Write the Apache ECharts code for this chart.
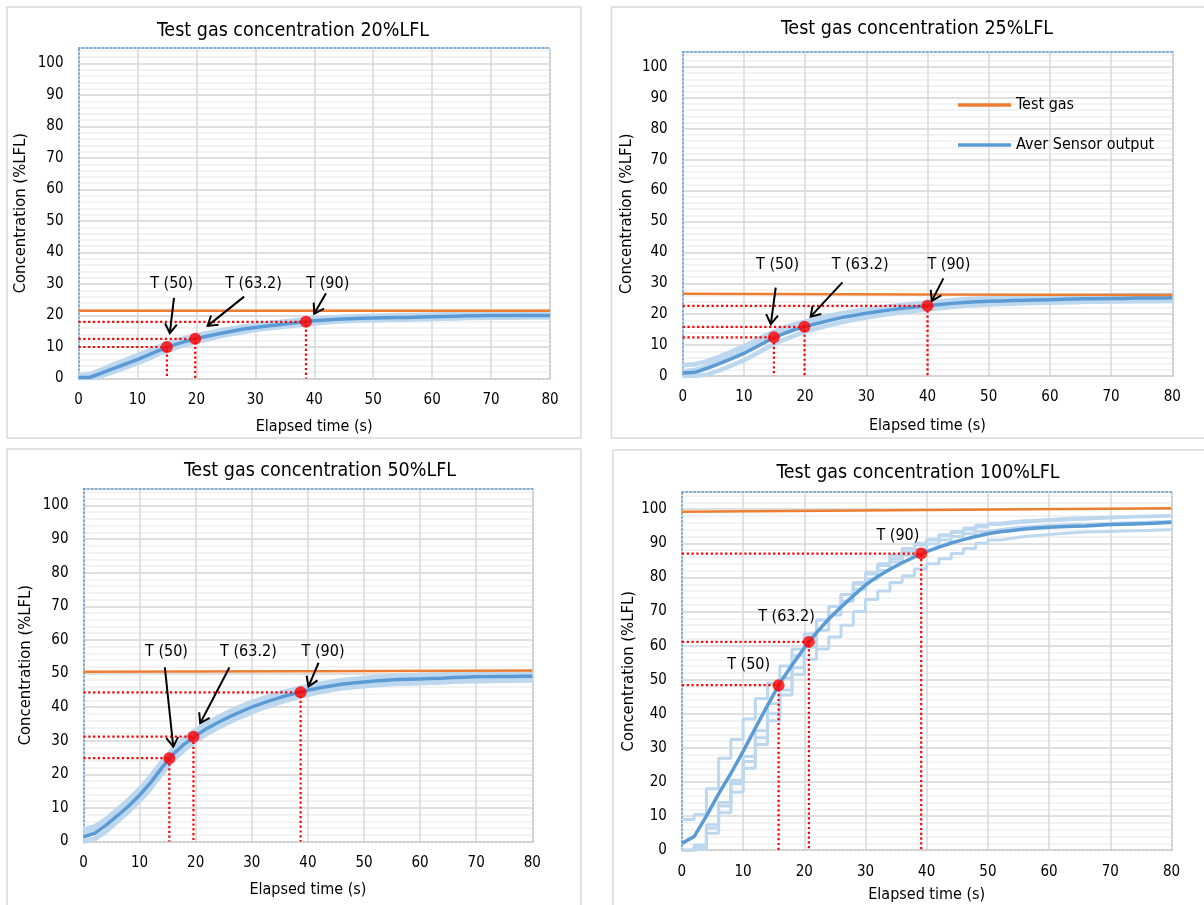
<!DOCTYPE html>
<html>
<head>
<meta charset="utf-8">
<script src="https://cdn.jsdelivr.net/npm/echarts@6/dist/echarts.min.js"></script>
<style>
  html, body { margin: 0; padding: 0; background: #ffffff; }
  #chart { width: 1204px; height: 905px; }
</style>
</head>
<body>
<div id="chart"></div>
<script>
// ---------- data ----------
const TIME = [0,2,4,6,8,10,12,14,16,18,20,22,24,26,28,30,32,34,36,38,40,42,44,46,48,50,52,54,56,58,60,62,64,66,68,70,72,74,76,78,80];
const GAS_TIME = [0, 40, 80];
const TITLES = ['Test gas concentration 20%LFL', 'Test gas concentration 25%LFL', 'Test gas concentration 50%LFL', 'Test gas concentration 100%LFL'];
const T_LABELS = ['T (50)', 'T (63.2)', 'T (90)'];
const X_TICKS = [0, 10, 20, 30, 40, 50, 60, 70, 80];
const Y_TICKS = [0, 10, 20, 30, 40, 50, 60, 70, 80, 90, 100];

// 20 %LFL
const GAS_20 = [21.5, 21.5, 21.5];
const AVG_20 = [0.3,0.4,1.8,3.2,4.6,6.0,7.6,9.2,10.5,11.7,12.7,13.5,14.3,15.0,15.7,16.2,16.7,17.1,17.5,17.9,18.3,18.6,18.8,19.0,19.1,19.2,19.3,19.4,19.4,19.5,19.6,19.7,19.8,19.9,19.9,20.0,20.0,20.0,20.0,20.0,20.0];
const S20_A = [1.0,1.5,3.0,4.6,6.0,7.5,9.0,10.5,11.8,12.9,13.8,14.6,15.3,16.0,16.6,17.1,17.6,18.0,18.4,18.8,19.1,19.4,19.6,19.8,19.9,20.0,20.1,20.2,20.2,20.3,20.4,20.5,20.6,20.6,20.7,20.7,20.8,20.8,20.8,20.8,20.8];
const S20_B = [0.0,0.0,0.8,2.0,3.4,4.8,6.3,8.0,9.3,10.6,11.6,12.4,13.3,14.0,14.7,15.3,15.8,16.2,16.6,17.0,17.4,17.7,18.0,18.2,18.3,18.4,18.5,18.6,18.6,18.7,18.8,18.9,19.0,19.1,19.1,19.2,19.2,19.2,19.3,19.3,19.3];
const S20_C = [0.2,0.6,2.2,3.6,5.0,6.4,8.0,9.6,10.9,12.0,13.0,13.8,14.6,15.3,15.9,16.4,16.9,17.3,17.7,18.1,18.5,18.8,19.0,19.2,19.3,19.4,19.5,19.6,19.6,19.7,19.8,19.9,20.0,20.1,20.1,20.2,20.2,20.2,20.2,20.2,20.2];
const TX_20 = [15.0, 19.8, 38.6];
const TY_20 = [10.0, 12.6, 18.0];

// 25 %LFL
const GAS_25 = [26.6, 26.4, 26.2];
const AVG_25 = [1.0,1.2,2.5,4.0,5.6,7.3,9.4,11.5,13.3,14.8,16.0,17.0,18.0,18.9,19.6,20.3,20.9,21.4,21.9,22.3,22.7,23.1,23.5,23.8,24.0,24.2,24.3,24.4,24.5,24.6,24.7,24.8,24.9,25.0,25.0,25.1,25.1,25.2,25.2,25.2,25.3];
const S25_A = [3.5,3.8,4.8,6.3,7.9,9.6,11.6,13.6,15.2,16.6,17.6,18.6,19.5,20.3,21.0,21.6,22.1,22.6,23.0,23.4,23.8,24.2,24.5,24.8,25.0,25.2,25.3,25.4,25.5,25.6,25.7,25.8,25.9,26.0,26.0,26.1,26.1,26.2,26.2,26.2,26.3];
const S25_B = [0.0,0.0,0.5,1.8,3.4,5.1,7.2,9.4,11.3,12.9,14.3,15.4,16.5,17.4,18.2,18.9,19.6,20.1,20.6,21.1,21.5,21.9,22.3,22.7,22.9,23.1,23.3,23.4,23.5,23.6,23.7,23.8,23.9,24.0,24.0,24.1,24.1,24.2,24.2,24.2,24.3];
const S25_C = [1.5,2.0,3.2,4.8,6.4,8.2,10.3,12.4,14.1,15.6,16.8,17.8,18.7,19.6,20.3,21.0,21.5,22.0,22.5,22.9,23.3,23.6,24.0,24.3,24.5,24.7,24.8,24.9,25.0,25.1,25.2,25.3,25.4,25.5,25.5,25.6,25.6,25.7,25.7,25.7,25.8];
const TX_25 = [14.9, 19.9, 40.0];
const TY_25 = [12.5, 15.9, 22.7];

// 50 %LFL
const GAS_50 = [50.5, 50.7, 50.9];
const AVG_50 = [1.4,2.4,4.8,7.6,10.5,13.8,17.6,22.0,26.0,29.0,31.5,33.6,35.4,37.1,38.6,40.0,41.2,42.3,43.3,44.2,45.0,45.7,46.3,46.8,47.2,47.5,47.8,48.0,48.2,48.3,48.4,48.5,48.6,48.8,48.9,49.0,49.0,49.1,49.1,49.2,49.2];
const S50_A = [3.5,4.4,6.6,9.4,12.3,15.6,19.4,23.7,27.6,30.6,33.1,35.1,36.9,38.6,40.1,41.5,42.6,43.6,44.6,45.4,46.2,46.8,47.4,47.9,48.3,48.6,48.9,49.1,49.3,49.4,49.5,49.6,49.7,49.9,50.0,50.1,50.1,50.2,50.2,50.3,50.3];
const S50_B = [0.0,0.8,3.0,6.0,8.9,12.2,15.9,20.3,24.4,27.4,29.9,32.1,33.9,35.6,37.1,38.5,39.8,40.9,41.9,42.9,43.7,44.5,45.1,45.6,46.0,46.3,46.6,46.8,47.0,47.1,47.2,47.3,47.4,47.6,47.7,47.8,47.8,47.9,47.9,48.0,48.0];
const S50_C = [2.0,3.2,5.8,8.8,11.8,15.2,19.2,23.6,27.4,30.2,32.6,34.6,36.4,38.0,39.5,40.9,42.1,43.1,44.1,45.0,45.8,46.4,47.0,47.5,47.9,48.2,48.5,48.7,48.9,49.0,49.1,49.2,49.3,49.5,49.6,49.7,49.7,49.8,49.8,49.9,49.9];
const TX_50 = [15.3, 19.6, 38.7];
const TY_50 = [24.8, 31.2, 44.4];

// 100 %LFL
const GAS_100 = [99.3, 99.8, 100.3];
const AVG_100 = [2.0,4.0,10.0,16.5,22.5,29.0,35.8,42.5,49.0,54.3,59.3,63.8,67.8,71.3,74.6,77.8,80.3,82.4,84.3,86.0,87.6,88.9,90.1,91.1,92.0,92.8,93.4,93.8,94.2,94.5,94.7,94.9,95.0,95.1,95.3,95.5,95.6,95.7,95.8,96.0,96.2];
const S100_A = [9.0,10.5,18.0,27.0,32.5,38.5,44.5,49.0,54.0,59.0,63.5,67.5,71.5,75.0,78.0,81.0,83.5,85.5,87.5,89.5,91.0,92.2,93.2,94.0,94.8,95.5,95.9,96.2,96.5,96.7,96.8,97.0,97.1,97.3,97.4,97.6,97.7,97.8,97.9,98.0,98.1];
const S100_B = [0.0,0.5,5.0,11.0,17.0,24.0,31.0,38.0,45.5,51.5,56.0,59.0,62.5,66.0,70.0,73.5,76.0,78.5,80.5,82.5,84.0,85.5,87.0,88.5,90.0,91.0,91.5,92.0,92.3,92.6,92.9,93.1,93.3,93.4,93.5,93.6,93.7,93.8,93.9,94.0,94.1];
const S100_C = [0.0,1.5,7.5,14.0,20.5,27.5,35.0,43.0,50.5,57.0,62.5,67.5,71.5,75.0,78.5,81.5,84.0,86.5,88.5,90.0,91.2,92.5,93.5,94.5,95.3,95.9,96.3,96.6,96.8,97.0,97.2,97.4,97.5,97.6,97.7,97.8,97.9,98.0,98.1,98.2,98.3];
const S100_D = [0.0,1.0,6.5,13.0,19.5,26.0,33.0,40.0,47.0,53.5,59.5,64.5,69.0,73.0,76.5,79.5,82.0,84.5,86.5,88.3,89.8,91.0,92.0,92.8,93.5,94.0,94.5,94.8,95.0,95.2,95.4,95.5,95.6,95.7,95.8,96.0,96.1,96.2,96.3,96.4,96.5];
const TX_100 = [15.8, 20.75, 39.1];
const TY_100 = [48.4, 61.1, 87.0];

// annotation anchors in axis units: label centres and arrow [x0, y0, x1, y1]
const LBL_20 = [[15.8, 30.2], [29.7, 30.2], [42.3, 30.2]];
const ARR_20 = [[16.2, 25.6, 15.5, 14.4], [28.1, 26.0, 21.9, 16.7], [42.0, 27.1, 40.0, 20.6]];
const LBL_25 = [[15.5, 35.9], [29.0, 35.9], [43.5, 35.9]];
const ARR_25 = [[15.2, 28.6, 14.4, 16.8], [26.1, 30.3, 20.9, 19.2], [42.6, 31.6, 40.7, 24.3]];
const LBL_50 = [[14.8, 56.5], [29.4, 56.5], [42.7, 56.5]];
const ARR_50 = [[14.5, 51.8, 16.0, 28.2], [26.0, 51.8, 20.8, 35.2], [41.9, 53.2, 40.1, 46.1]];
const LBL_100 = [[10.9, 54.3], [17.1, 68.4], [35.3, 92.2]];
const ARR_100 = [];

// ---------- styling / layout ----------
const FONT = "'DejaVu Sans Condensed', 'DejaVu Sans', sans-serif";
const C_GAS = '#ED7D31', C_AVG = '#5B9BD5', C_SENSOR = '#BDD7EE', C_BORDER = '#5B9BD5';
const DOTTED = [1.5, 2.5];

const PANELS = [
  { title: TITLES[0], tx: 293, ty: 30.7, frame: [7, 7, 574, 431],
    grid: { left: 78.5, top: 47.75, width: 471.5, height: 330.75 }, xGap: 40, yGap: 49,
    gas: GAS_20, avg: AVG_20, sensors: [S20_A, S20_B, S20_C], stepped: false, sensorWidth: 4, px: TX_20, py: TY_20, lbl: LBL_20, arr: ARR_20 },
  { title: TITLES[1], tx: 917, ty: 29.3, frame: [611.5, 7, 620, 431],
    grid: { left: 682.7, top: 51.5, width: 489.6, height: 324.5 }, xGap: 42, yGap: 47,
    gas: GAS_25, avg: AVG_25, sensors: [S25_A, S25_B, S25_C], stepped: false, sensorWidth: 4.5, px: TX_25, py: TY_25, lbl: LBL_25, arr: ARR_25 },
  { title: TITLES[2], tx: 320, ty: 471, frame: [7, 449, 574, 480],
    grid: { left: 83.5, top: 488.7, width: 448.8, height: 352.8 }, xGap: 40.5, yGap: 49,
    gas: GAS_50, avg: AVG_50, sensors: [S50_A, S50_B, S50_C], stepped: false, sensorWidth: 5, px: TX_50, py: TY_50, lbl: LBL_50, arr: ARR_50 },
  { title: TITLES[3], tx: 918, ty: 473.3, frame: [613, 450, 620, 480],
    grid: { left: 681.9, top: 492.2, width: 489.6, height: 358 }, xGap: 37, yGap: 45,
    gas: GAS_100, avg: AVG_100, sensors: [S100_A, S100_B, S100_C, S100_D], stepped: true, sensorWidth: 3, px: TX_100, py: TY_100, lbl: LBL_100, arr: ARR_100 }
];

const pairs = (xs, ys) => xs.map((x, k) => [x, ys[k]]);
const textStyle = (size) => ({ fontFamily: FONT, fontSize: size, color: '#000000' });

const option = {
  animation: false,
  backgroundColor: '#ffffff',
  title: [], grid: [], xAxis: [], yAxis: [], series: [],
  graphic: [],
  legend: {
    orient: 'vertical', left: 958, top: 97, padding: 0,
    icon: 'rect', itemWidth: 53, itemHeight: 3.5, itemGap: 24,
    data: ['Test gas', 'Aver Sensor output'],
    textStyle: textStyle(16), selectedMode: false
  }
};

PANELS.forEach((p, i) => {
  const xi = 2 * i, yi = 2 * i;
  option.graphic.push({
    type: 'rect', silent: true, z: 0,
    shape: { x: p.frame[0], y: p.frame[1], width: p.frame[2], height: p.frame[3] },
    style: { fill: null, stroke: '#d9d9d9', lineWidth: 1.5 }
  });
  option.title.push({
    text: p.title, left: p.tx, top: p.ty, textAlign: 'center', textVerticalAlign: 'middle', padding: 0,
    textStyle: { fontFamily: FONT, fontSize: 19.5, fontWeight: 'normal', color: '#000000' }
  });
  option.grid.push(Object.assign({ outerBoundsMode: 'none', containLabel: false }, p.grid));

  // bottom value axis with labels, and a bare top axis that draws the dotted frame edge
  option.xAxis.push({
    gridIndex: i, type: 'value', position: 'bottom', min: X_TICKS[0], max: X_TICKS[X_TICKS.length - 1], interval: 10, z: 1,
    axisLine: { onZero: false, lineStyle: { color: '#c8c8c8', type: DOTTED, width: 1.5 } },
    axisTick: { show: false },
    axisLabel: Object.assign({ margin: 14 }, textStyle(15)),
    splitLine: { show: true, lineStyle: { color: '#d9d9d9', width: 1.5 } },
    name: 'Elapsed time (s)', nameLocation: 'middle', nameGap: p.xGap, nameTextStyle: textStyle(16)
  });
  option.xAxis.push({
    gridIndex: i, type: 'value', position: 'top', min: 0, max: 80, z: 3,
    axisLine: { show: true, onZero: false, lineStyle: { color: C_BORDER, type: DOTTED, width: 1.5 } },
    axisTick: { show: false }, axisLabel: { show: false }, splitLine: { show: false }
  });
  // main value axis (major grid) and a second one on the right for the fine grid lines
  option.yAxis.push({
    gridIndex: i, type: 'value', position: 'left', min: Y_TICKS[0], max: 105, interval: 10, z: 1,
    axisLine: { show: true, onZero: false, lineStyle: { color: C_BORDER, type: DOTTED, width: 1.5 } },
    axisTick: { show: false },
    axisLabel: Object.assign({ margin: 15, showMaxLabel: false,
      formatter: (v) => (Y_TICKS.indexOf(v) >= 0 ? String(v) : '') }, textStyle(15)),
    splitLine: { show: true, lineStyle: { color: '#d9d9d9', width: 1.5 } },
    name: 'Concentration (%LFL)', nameLocation: 'middle', nameGap: p.yGap, nameTextStyle: textStyle(16.5)
  });
  option.yAxis.push({
    gridIndex: i, type: 'value', position: 'right', min: 0, max: 105, interval: 2, z: 0,
    axisLine: { show: true, onZero: false, lineStyle: { color: C_BORDER, type: DOTTED, width: 1.5 } },
    axisTick: { show: false }, axisLabel: { show: false },
    splitLine: { show: true, lineStyle: { color: '#efefef', width: 1.5 } }
  });

  const ax = { xAxisIndex: xi, yAxisIndex: yi };

  p.sensors.forEach((s) => {
    option.series.push(Object.assign({
      type: 'line', name: 'Sensor', data: pairs(TIME, s), step: p.stepped ? 'end' : false,
      showSymbol: false, symbol: 'none', silent: true, z: 2,
      lineStyle: { color: C_SENSOR, width: p.sensorWidth }, itemStyle: { color: C_SENSOR }
    }, ax));
  });
  option.series.push(Object.assign({
    type: 'line', name: 'Aver Sensor output', data: pairs(TIME, p.avg), showSymbol: false, symbol: 'none', silent: true, z: 3,
    lineStyle: { color: C_AVG, width: 3.5 }, itemStyle: { color: C_AVG }
  }, ax));
  option.series.push(Object.assign({
    type: 'line', name: 'Test gas', data: pairs(GAS_TIME, p.gas), showSymbol: false, symbol: 'none', silent: true, z: 4,
    lineStyle: { color: C_GAS, width: 2.5 }, itemStyle: { color: C_GAS }
  }, ax));

  // red dotted guides from each time-constant point to both axes
  option.series.push(Object.assign({
    type: 'custom', name: 'guides', silent: true, z: 5, data: pairs(p.px, p.py),
    renderItem: (params, api) => {
      const x = api.value(0), y = api.value(1);
      const a = api.coord([0, y]), b = api.coord([x, y]), c = api.coord([x, 0]);
      return { type: 'polyline', shape: { points: [a, b, c] },
        style: { stroke: '#ff0000', lineWidth: 2.2, lineDash: [2.2, 2.6], fill: null } };
    }
  }, ax));
  option.series.push(Object.assign({
    type: 'scatter', name: 'T points', data: pairs(p.px, p.py), symbol: 'circle', symbolSize: 12, silent: true, z: 6,
    itemStyle: { color: '#ff0000' }
  }, ax));

  // arrows
  option.series.push(Object.assign({
    type: 'custom', name: 'arrows', silent: true, z: 7, data: p.arr,
    renderItem: (params, api) => {
      const s = api.coord([api.value(0), api.value(1)]);
      const t = api.coord([api.value(2), api.value(3)]);
      const ang = Math.atan2(t[1] - s[1], t[0] - s[0]);
      const L = 11, w = Math.PI / 5.5;
      const h1 = [t[0] - L * Math.cos(ang - w), t[1] - L * Math.sin(ang - w)];
      const h2 = [t[0] - L * Math.cos(ang + w), t[1] - L * Math.sin(ang + w)];
      return { type: 'group', children: [
        { type: 'line', shape: { x1: s[0], y1: s[1], x2: t[0], y2: t[1] }, style: { stroke: '#000000', lineWidth: 2 } },
        { type: 'polyline', shape: { points: [h1, t, h2] }, style: { stroke: '#000000', lineWidth: 2, fill: null } }
      ] };
    }
  }, ax));

  // T labels
  option.series.push(Object.assign({
    type: 'custom', name: 'labels', silent: true, z: 7,
    data: p.lbl.map((q, k) => [q[0], q[1], k]),
    renderItem: (params, api) => {
      const c = api.coord([api.value(0), api.value(1)]);
      return { type: 'text', x: c[0], y: c[1],
        style: { text: T_LABELS[api.value(2)], align: 'center', verticalAlign: 'middle',
          fontFamily: FONT, fontSize: 16, fill: '#000000' } };
    }
  }, ax));
});

const chart = echarts.init(document.getElementById('chart'), null, { renderer: 'canvas' });
chart.setOption(option);
</script>
</body>
</html>
